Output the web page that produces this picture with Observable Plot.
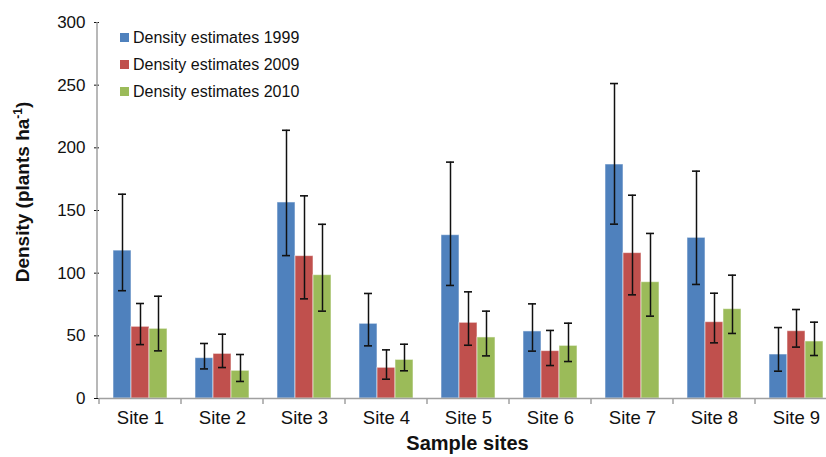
<!DOCTYPE html>
<html>
<head>
<meta charset="utf-8">
<script src="https://cdn.jsdelivr.net/npm/d3@7"></script>
<script src="https://cdn.jsdelivr.net/npm/@observablehq/plot@0.6"></script>
<style>
  html, body { margin: 0; padding: 0; background: #fff; overflow: hidden; }
  #wrap { position: relative; width: 826px; height: 457px; overflow: hidden; }
  #legend { position: absolute; left: 120px; top: 24px; font-family: "Liberation Sans", Arial, sans-serif; font-size: 16px; color: #111; }
  #legend .row { display: flex; align-items: center; height: 27px; }
  #legend .sw { width: 9px; height: 9px; margin-right: 4px; }
  g[aria-label="y-axis tick"] { stroke: #8c8c8c; }
</style>
</head>
<body>
<div id="wrap"><div id="chart"></div><div id="legend"></div></div>
<script>
const sites = ["Site 1", "Site 2", "Site 3", "Site 4", "Site 5", "Site 6", "Site 7", "Site 8", "Site 9"];
const series = ["Density estimates 1999", "Density estimates 2009", "Density estimates 2010"];
const colors = ["#4F81BD", "#C0504D", "#9BBB59"];

const d1999  = [118.0, 32.2, 156.4, 59.6, 130.3, 53.5, 186.7, 128.2, 35.1];
const lo1999 = [86.0, 23.6, 114.0, 42.0, 90.2, 37.8, 139.1, 91.0, 21.8];
const hi1999 = [163.0, 43.9, 214.0, 83.8, 188.6, 75.5, 251.3, 181.4, 56.6];

const d2009  = [57.2, 35.6, 113.6, 24.5, 60.4, 37.8, 116.0, 60.9, 53.7];
const lo2009 = [43.0, 24.7, 79.5, 15.4, 42.5, 26.3, 82.7, 44.4, 41.0];
const hi2009 = [75.8, 51.3, 161.7, 38.8, 85.1, 54.3, 162.2, 84.0, 71.0];

const d2010  = [55.6, 22.1, 98.4, 30.8, 48.7, 42.0, 92.8, 71.3, 45.5];
const lo2010 = [38.0, 13.6, 69.7, 22.1, 34.0, 29.5, 65.7, 51.9, 34.3];
const hi2010 = [81.6, 35.1, 139.0, 43.3, 69.7, 60.1, 131.7, 98.4, 60.9];

const yTicks = [0, 50, 100, 150, 200, 250, 300];

const vals = [d1999, d2009, d2010];
const los = [lo1999, lo2009, lo2010];
const his = [hi1999, hi2009, hi2010];
const rows = [];
sites.forEach((s, i) => series.forEach((k, j) => {
  rows.push({site: s, series: k, value: vals[j][i], lo: los[j][i], hi: his[j][i]});
}));

const W = 838, H = 457, ML = 97, MT = 22, MB = 59;

const plot = Plot.plot({
  width: W, height: H,
  marginLeft: ML, marginRight: 0, marginTop: MT, marginBottom: MB,
  style: {fontFamily: "'Liberation Sans', Arial, sans-serif", color: "#111", background: "#fff", maxWidth: "none", overflow: "visible"},
  fx: {domain: sites, padding: 0, label: null},
  x: {domain: series, paddingInner: 0, paddingOuter: 0.75, axis: null},
  y: {domain: [0, 300], ticks: yTicks},
  color: {domain: series, range: colors},
  marks: [
    Plot.barY(rows, {fx: "site", x: "series", y: "value", fill: "series", stroke: "#fff", strokeOpacity: 0.55, strokeWidth: 1}),
    Plot.ruleX(rows, {fx: "site", x: "series", y1: "lo", y2: "hi", stroke: "#111", strokeWidth: 1.5}),
    Plot.tickY(rows, {fx: "site", x: "series", y: "lo", stroke: "#111", strokeWidth: 1.6, insetLeft: 5, insetRight: 5}),
    Plot.tickY(rows, {fx: "site", x: "series", y: "hi", stroke: "#111", strokeWidth: 1.6, insetLeft: 5, insetRight: 5}),
    Plot.ruleY([0], {stroke: "#a0a0a0", strokeWidth: 1.5}),
    Plot.axisY({ticks: yTicks, tickSize: 5, tickPadding: 9, fontSize: 17, label: null}),
    Plot.axisFx({anchor: "bottom", tickSize: 0, tickPadding: 12, fontSize: 18.5, label: null})
  ]
});
document.getElementById("chart").appendChild(plot);

// Excel-style axis line and tick marks between categories, from Plot's own scales
const svg = d3.select(plot);
const fx = plot.scale("fx");
const y = plot.scale("y");
const y0 = y.apply(0), yTop = y.apply(300);
const g = svg.append("g").attr("stroke", "#a0a0a0").attr("stroke-width", 1.5);
g.append("line").attr("x1", ML).attr("x2", ML).attr("y1", yTop).attr("y2", y0);
const bounds = sites.map(s => fx.apply(s)).concat([fx.apply(sites[sites.length - 1]) + fx.bandwidth]);
bounds.forEach(b => g.append("line").attr("x1", b).attr("x2", b).attr("y1", y0).attr("y2", y0 + 6));

// axis titles
const yl = svg.append("text")
  .attr("transform", `translate(29,192) rotate(-90)`)
  .attr("text-anchor", "middle")
  .attr("font-family", "'Liberation Sans', Arial, sans-serif")
  .attr("font-weight", "bold").attr("font-size", 19).attr("fill", "#111");
yl.append("tspan").text("Density (plants ha");
yl.append("tspan").attr("font-size", 12).attr("dy", -7).text("-1");
yl.append("tspan").attr("dy", 7).text(")");

svg.append("text")
  .attr("x", (ML + W) / 2).attr("y", 450)
  .attr("text-anchor", "middle")
  .attr("font-family", "'Liberation Sans', Arial, sans-serif")
  .attr("font-weight", "bold").attr("font-size", 20).attr("fill", "#111")
  .text("Sample sites");

// legend
const leg = d3.select("#legend");
series.forEach((k, j) => {
  const r = leg.append("div").attr("class", "row");
  r.append("div").attr("class", "sw").style("background", colors[j]);
  r.append("span").text(k);
});
</script>
</body>
</html>
